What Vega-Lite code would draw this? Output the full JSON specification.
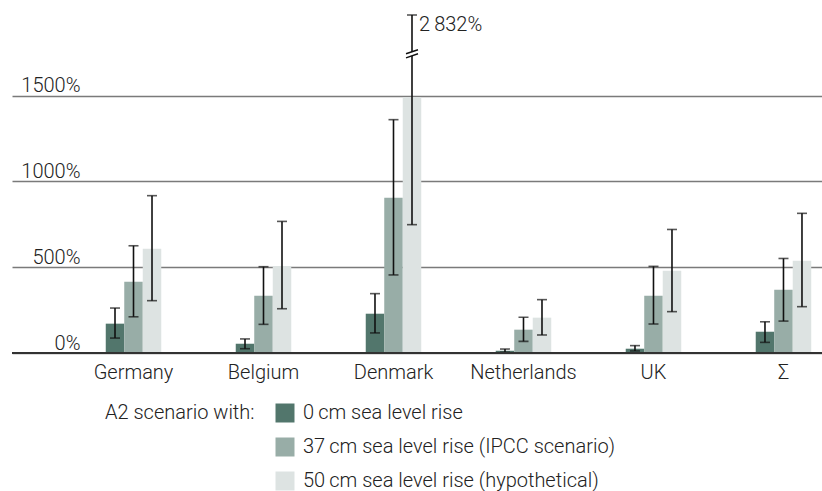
{
  "$schema": "https://vega.github.io/schema/vega-lite/v6.json",
  "width": 810,
  "height": 338,
  "autosize": {"type": "none"},
  "padding": {"left": 12, "top": 15, "right": 0, "bottom": 138},
  "config": {"view": {"stroke": null}, "font": "Roboto"},
  "datasets": {
    "main": [
      {"country": "Germany", "scenario": "0\u2009cm sea level rise", "value": 171, "lo": 87, "hi": 262},
      {"country": "Germany", "scenario": "37\u2009cm sea level rise (IPCC scenario)", "value": 415, "lo": 211, "hi": 625},
      {"country": "Germany", "scenario": "50\u2009cm sea level rise (hypothetical)", "value": 608, "lo": 305, "hi": 917},
      {"country": "Belgium", "scenario": "0\u2009cm sea level rise", "value": 54, "lo": 25, "hi": 82},
      {"country": "Belgium", "scenario": "37\u2009cm sea level rise (IPCC scenario)", "value": 334, "lo": 167, "hi": 503},
      {"country": "Belgium", "scenario": "50\u2009cm sea level rise (hypothetical)", "value": 507, "lo": 258, "hi": 767},
      {"country": "Denmark", "scenario": "0\u2009cm sea level rise", "value": 229, "lo": 117, "hi": 346},
      {"country": "Denmark", "scenario": "37\u2009cm sea level rise (IPCC scenario)", "value": 905, "lo": 455, "hi": 1360},
      {"country": "Denmark", "scenario": "50\u2009cm sea level rise (hypothetical)", "value": 1490, "lo": 748, "hi": 2832, "hi_label": "2\u2009832%"},
      {"country": "Netherlands", "scenario": "0\u2009cm sea level rise", "value": 13, "lo": 4, "hi": 23},
      {"country": "Netherlands", "scenario": "37\u2009cm sea level rise (IPCC scenario)", "value": 136, "lo": 68, "hi": 208},
      {"country": "Netherlands", "scenario": "50\u2009cm sea level rise (hypothetical)", "value": 206, "lo": 105, "hi": 311},
      {"country": "UK", "scenario": "0\u2009cm sea level rise", "value": 25, "lo": 12, "hi": 43},
      {"country": "UK", "scenario": "37\u2009cm sea level rise (IPCC scenario)", "value": 334, "lo": 169, "hi": 505},
      {"country": "UK", "scenario": "50\u2009cm sea level rise (hypothetical)", "value": 480, "lo": 241, "hi": 720},
      {"country": "Σ", "scenario": "0\u2009cm sea level rise", "value": 124, "lo": 62, "hi": 182},
      {"country": "Σ", "scenario": "37\u2009cm sea level rise (IPCC scenario)", "value": 369, "lo": 186, "hi": 551},
      {"country": "Σ", "scenario": "50\u2009cm sea level rise (hypothetical)", "value": 538, "lo": 270, "hi": 814}
    ],
    "brk": [
      {"country": "Denmark", "scenario": "50\u2009cm sea level rise (hypothetical)", "at": 1744}
    ]
  },
  "data": {"name": "main"},
  "encoding": {
    "x": {
      "field": "country", "type": "nominal",
      "sort": ["Germany", "Belgium", "Denmark", "Netherlands", "UK", "Σ"],
      "scale": {"paddingInner": 0.573, "paddingOuter": 0.402, "align": 0.897},
      "axis": {"title": null, "domain": false, "ticks": false, "grid": false, "labelAngle": 0, "labelPadding": 9,
               "labelFontSize": 20, "labelFont": "Roboto", "labelFontWeight": 300, "labelColor": "#222222"}
    },
    "xOffset": {
      "field": "scenario", "type": "nominal",
      "sort": ["0\u2009cm sea level rise", "37\u2009cm sea level rise (IPCC scenario)", "50\u2009cm sea level rise (hypothetical)"],
      "scale": {"paddingInner": 0, "paddingOuter": 0}
    }
  },
  "layer": [
    {
      "mark": {"type": "bar"},
      "encoding": {
        "y": {
          "field": "value", "type": "quantitative", "title": null,
          "scale": {"domain": [0, 1970], "nice": false, "zero": true, "clamp": true},
          "axis": {"title": null, "values": [0, 500, 1000, 1500], "domain": false, "ticks": false, "grid": true,
                   "gridColor": "#7a7a7a", "gridWidth": 1.3, "labelPadding": -68, "labelAlign": "right",
                   "labelBaseline": "alphabetic", "labelOffset": -4, "labelExpr": "datum.value + '%'",
                   "labelOverlap": false, "labelFontSize": 20, "labelFont": "Roboto", "labelFontWeight": 300, "labelColor": "#222222"}
        },
        "color": {
          "field": "scenario", "type": "nominal",
          "sort": ["0\u2009cm sea level rise", "37\u2009cm sea level rise (IPCC scenario)", "50\u2009cm sea level rise (hypothetical)"],
          "scale": {"range": ["#52766c", "#98ada7", "#dde3e2"]},
          "legend": {
            "title": "A2 scenario with:", "orient": "none", "legendX": 93, "legendY": 388, "direction": "vertical",
            "titleOrient": "left", "titleAnchor": "start", "titleBaseline": "top",
            "titleFontSize": 20, "titleFontWeight": 300, "titleFont": "Roboto", "titleColor": "#222222",
            "titlePadding": 20, "titleLimit": 400, "symbolType": "square", "symbolSize": 361, "symbolStrokeWidth": 0,
            "labelFontSize": 20, "labelFontWeight": 300, "labelFont": "Roboto", "labelColor": "#222222",
            "labelOffset": 8, "rowPadding": 14, "labelLimit": 600, "padding": 0
          }
        }
      }
    },
    {
      "mark": {"type": "rule", "color": "#111111", "strokeWidth": 1.6},
      "encoding": {
        "y": {"field": "lo", "type": "quantitative", "title": null},
        "y2": {"field": "hi"}
      }
    },
    {
      "mark": {"type": "tick", "color": "#111111", "thickness": 1.6, "size": 10, "orient": "horizontal"},
      "encoding": {"y": {"field": "lo", "type": "quantitative", "title": null}}
    },
    {
      "mark": {"type": "tick", "color": "#111111", "thickness": 1.6, "size": 10, "orient": "horizontal"},
      "encoding": {"y": {"field": "hi", "type": "quantitative", "title": null}}
    },
    {
      "mark": {"type": "rule", "color": "#333333", "strokeWidth": 1.5},
      "encoding": {"y": {"datum": 0, "type": "quantitative", "title": null}, "x": null, "xOffset": null}
    },
    {
      "data": {"name": "brk"},
      "mark": {"type": "point", "shape": "M-0.5,-0.165 L0.5,-0.5 L0.5,0.165 L-0.5,0.5 Z", "filled": true, "color": "#ffffff", "opacity": 1, "size": 144, "strokeWidth": 0},
      "encoding": {"y": {"field": "at", "type": "quantitative", "title": null}}
    },
    {
      "data": {"name": "brk"},
      "mark": {"type": "point", "shape": "M-1,0 L1,-0.67 M-1,0.67 L1,0", "filled": false, "color": "#111111", "opacity": 1, "size": 144, "strokeWidth": 1.4},
      "encoding": {"y": {"field": "at", "type": "quantitative", "title": null}}
    },
    {
      "transform": [{"filter": "isValid(datum.hi_label)"}],
      "mark": {"type": "text", "align": "left", "baseline": "top", "dx": 7, "dy": 0, "fontSize": 20, "fontWeight": 300, "font": "Roboto", "color": "#222222"},
      "encoding": {
        "y": {"field": "hi", "type": "quantitative", "title": null},
        "text": {"field": "hi_label"}
      }
    }
  ]
}
